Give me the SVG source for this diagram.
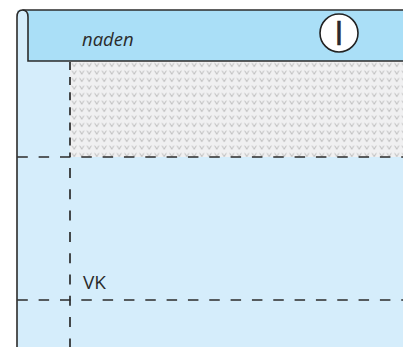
<svg xmlns="http://www.w3.org/2000/svg" width="410" height="347" viewBox="0 0 410 347">
<style>
.edge{stroke:#2b2b2b;stroke-width:1.6;fill:none}
.dash{stroke:#2b2b2b;stroke-width:1.7;fill:none}
.lbl{font-family:"Open Sans","Liberation Sans",sans-serif;fill:#2b2b2b}
</style>
<defs>
<pattern id="knit" patternUnits="userSpaceOnUse" x="70.5" y="61.5" width="7.5" height="7.5">
<path d="M1.6,1.6 L3.75,5.2 L5.9,1.6" stroke="#b3b3b3" stroke-width="0.9" fill="none"/>
</pattern>
</defs>
<g id="body">
<rect x="17" y="10" width="386" height="337" fill="#d5edfb"/>
<rect x="70" y="61" width="333" height="96" fill="#f0f0f1"/>
<rect x="70" y="61" width="333" height="96" fill="url(#knit)"/>
</g>
<g id="header">
<rect x="28" y="10" width="375" height="51" fill="#aadff7"/>
<path class="edge" d="M17,347 V17 Q17,10 22.5,10 Q28,10 28,17 V61 H403"/>
<line class="edge" x1="22.5" y1="10" x2="403" y2="10"/>
<text class="lbl" x="82" y="46" font-size="18.5" font-style="italic">naden</text>
</g>
<g id="marker-I">
<circle cx="339" cy="33" r="19" fill="#ffffff" stroke="#222" stroke-width="1.6"/>
<text class="lbl" x="339" y="45" font-size="32" text-anchor="middle" fill="#222" stroke="#222" stroke-width="0.6" font-family="Liberation Sans, sans-serif">I</text>
</g>
<g id="connectors">
<line class="dash" x1="17.3" y1="157" x2="403" y2="157" stroke-dasharray="10.5 10.83"/>
<line class="dash" x1="17.3" y1="300" x2="403" y2="300" stroke-dasharray="10.5 10.83"/>
<line class="dash" x1="70" y1="62" x2="70" y2="157" stroke-dasharray="8 7.1"/>
<line class="dash" x1="70" y1="168" x2="70" y2="347" stroke-dasharray="10 11.3"/>
</g>
<g id="label-VK">
<text class="lbl" x="83" y="289" font-size="19" font-family="Liberation Sans, sans-serif">VK</text>
</g>
</svg>
